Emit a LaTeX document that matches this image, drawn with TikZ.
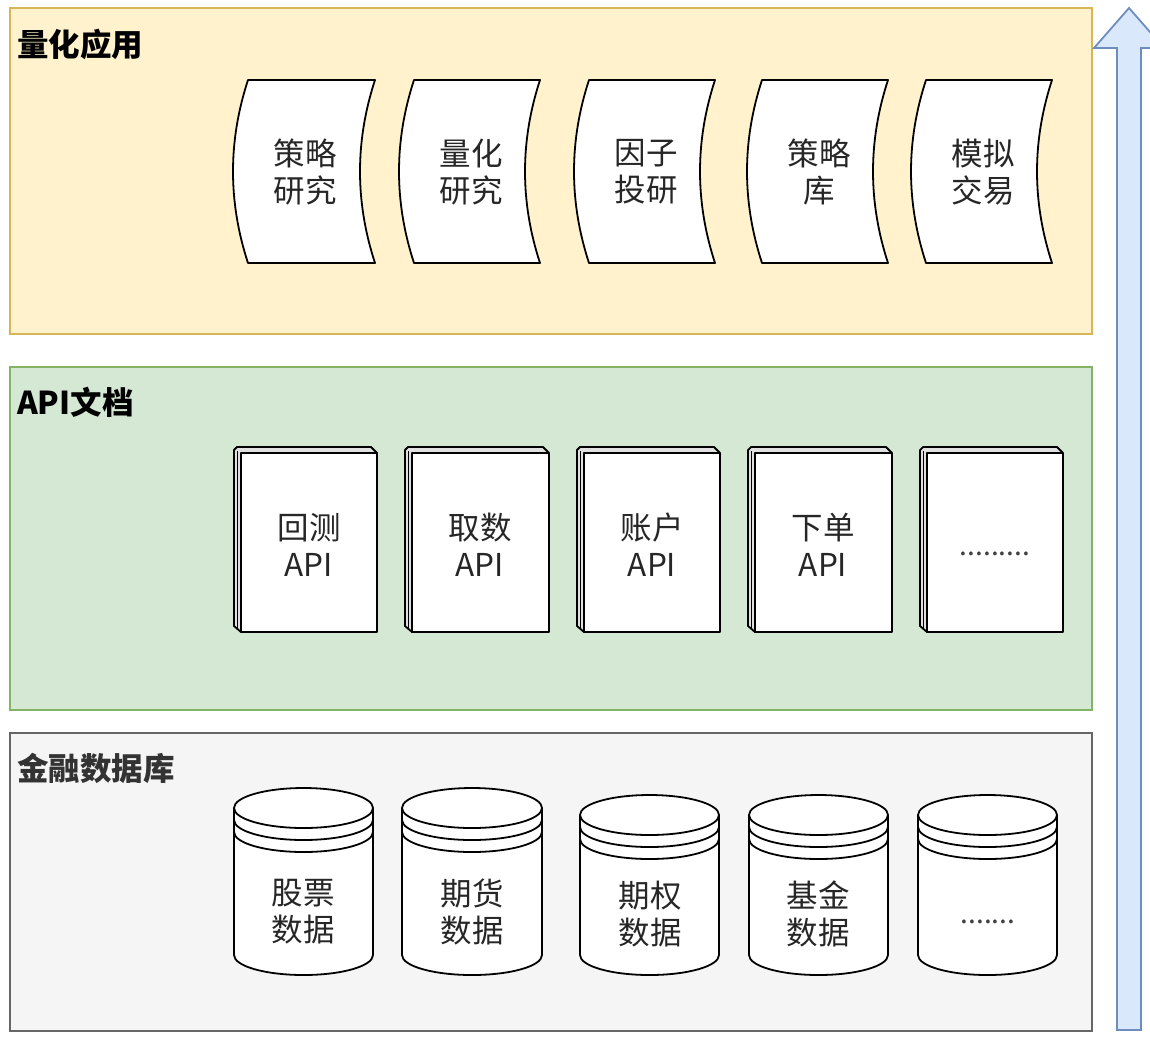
\documentclass[tikz,border=0pt]{standalone}
\usepackage{fontspec}
\setmainfont{Noto Sans CJK SC}
\definecolor{ylfill}{HTML}{FFF2CC}
\definecolor{ylline}{HTML}{D6B656}
\definecolor{grfill}{HTML}{D5E8D4}
\definecolor{grline}{HTML}{82B366}
\definecolor{gyfill}{HTML}{F5F5F5}
\definecolor{gyline}{HTML}{666666}
\definecolor{blfill}{HTML}{DAE8FC}
\definecolor{blline}{HTML}{6C8EBF}
\definecolor{pagegray}{HTML}{E0E0E0}
\tikzset{
  panel/.style={line width=1.5pt},
  shapeline/.style={line width=1.8pt, draw=black, line join=round},
  lbl/.style={align=center, inner sep=0pt, font=\fontsize{31.5}{37}\selectfont, text=black!85},
  ttl/.style={anchor=west, inner sep=0pt, font=\fontsize{31.5}{36}\selectfont\bfseries},
  dots/.style={inner sep=0pt, font=\fontsize{28}{30}\selectfont, text=black!75},
}
% tape: x0, x1, top, bottom
\newcommand{\tapeshape}[4]{%
  \filldraw[shapeline, fill=white] ({#1+14},#3) -- (#2,#3)
    .. controls ({#2-20},{#3+61}) and ({#2-20},{#4-61}) .. (#2,#4)
    -- ({#1+14},#4)
    .. controls ({#1-6},{#4-61}) and ({#1-6},{#3+61}) .. ({#1+14},#3) -- cycle;}
% book: x0, x1, top, bottom
\newcommand{\bookshape}[4]{%
  \filldraw[shapeline, fill=pagegray] ({#1+7},#4) -- (#1,{#4-6}) -- (#1,{#3+3}) -- ({#1+3},#3) -- ({#2-6},#3) -- (#2,{#3+6}) -- cycle;
  \draw[line width=1pt] ({#1+3.5},{#3+4}) -- ({#1+3.5},{#4-4});
  \filldraw[shapeline, fill=white] ({#1+7},{#3+6}) rectangle (#2,#4);}
% cylinder: x0, x1, top, bottom
\newcommand{\cylshape}[4]{%
  \pgfmathsetmacro\cxa{(#1+#2)/2}%
  \pgfmathsetmacro\kxa{0.5523*(#2-#1)/2}%
  \pgfmathsetmacro\ta{#3+20}%
  \pgfmathsetmacro\ba{#4-20}%
  \filldraw[shapeline, fill=white] (#1,\ta) -- (#1,\ba)
    .. controls (#1,{\ba+11.05}) and ({\cxa-\kxa},{\ba+20}) .. (\cxa,{\ba+20})
    .. controls ({\cxa+\kxa},{\ba+20}) and (#2,{\ba+11.05}) .. (#2,\ba)
    -- (#2,\ta)
    .. controls (#2,{\ta-11.05}) and ({\cxa+\kxa},{\ta-20}) .. (\cxa,{\ta-20})
    .. controls ({\cxa-\kxa},{\ta-20}) and (#1,{\ta-11.05}) .. (#1,\ta) -- cycle;
  \foreach \off in {0,12,24}{%
    \pgfmathsetmacro\cy{\ta+\off}%
    \draw[shapeline] (#1,\cy)
      .. controls (#1,{\cy+11.05}) and ({\cxa-\kxa},{\cy+20}) .. (\cxa,{\cy+20})
      .. controls ({\cxa+\kxa},{\cy+20}) and (#2,{\cy+11.05}) .. (#2,\cy);
  }}
\begin{document}
\begin{tikzpicture}[x=1pt,y=-1pt]
\useasboundingbox (0,0) rectangle (1150,1045);
\clip (0,0) rectangle (1150,1045);
\fill[white] (0,0) rectangle (1150,1045);

% panels
\filldraw[panel, fill=ylfill, draw=ylline] (10,8) rectangle (1092,334);
\filldraw[panel, fill=grfill, draw=grline] (10,367) rectangle (1092,710);
\filldraw[panel, fill=gyfill, draw=gyline] (10,733) rectangle (1092,1031);

\node[ttl] (t1) at (17,44) {量化应用};
\node[ttl] (t2) at (17,402) {API文档};
\node[ttl, text=black!80] (t3) at (17,768) {金融数据库};

% arrow
\filldraw[line width=1.8pt, fill=blfill, draw=blline, line join=miter]
  (1117,1030) -- (1117,48) -- (1094,48) -- (1129,8) -- (1164,48) -- (1141,48) -- (1141,1030) -- cycle;
\coordinate (arrowtip) at (1129,8);

% tapes
\tapeshape{234}{375}{80}{263}
\tapeshape{400}{540}{80}{263}
\tapeshape{575}{715}{80}{263}
\tapeshape{748}{888}{80}{263}
\tapeshape{912}{1052}{80}{263}
\node[lbl] (q1) at (305,172) {策略\\研究};
\node[lbl] (q2) at (471,172) {量化\\研究};
\node[lbl] (q3) at (646,172) {因子\\投研};
\node[lbl] (q4) at (819,172) {策略\\库};
\node[lbl] (q5) at (983,172) {模拟\\交易};

% books
\bookshape{234}{377}{447}{632}
\bookshape{405}{549}{447}{632}
\bookshape{577}{720}{447}{632}
\bookshape{748}{892}{447}{632}
\bookshape{920}{1063}{447}{632}
\node[lbl] (a1) at (309,545) {回测\\API};
\node[lbl] (a2) at (480,545) {取数\\API};
\node[lbl] (a3) at (652,545) {账户\\API};
\node[lbl] (a4) at (823,545) {下单\\API};
\node[dots] (a5) at (995,554) {.........};

% cylinders
\cylshape{234}{373}{788}{975}
\cylshape{402}{542}{788}{975}
\cylshape{580}{719}{795}{975}
\cylshape{749}{888}{795}{975}
\cylshape{918}{1057}{795}{975}
\node[lbl] (d1) at (303,912) {股票\\数据};
\node[lbl] (d2) at (472,912) {期货\\数据};
\node[lbl] (d3) at (650,914) {期权\\数据};
\node[lbl] (d4) at (818,914) {基金\\数据};
\node[dots] (d5) at (988,922) {.......};
\end{tikzpicture}
\end{document}
